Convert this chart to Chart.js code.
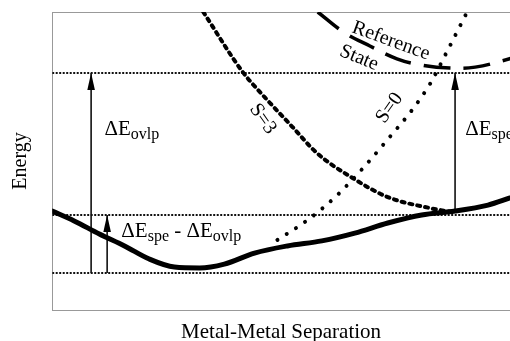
<!DOCTYPE html>
<html>
<head>
<meta charset="utf-8">
<script src="https://cdn.jsdelivr.net/npm/chart.js@4.4.0/dist/chart.umd.min.js"></script>
<style>
  html, body { margin: 0; padding: 0; background: #fff; overflow: hidden; }
</style>
</head>
<body>
<canvas id="c" width="510" height="341"></canvas>
<script>
// Potential energy curves vs. metal-metal separation (arbitrary units: x 0-10, E 0-10)

// Ground-state curve
const groundX = [0, 0.48, 1.03, 1.58, 2.12, 2.67, 3.22, 3.76, 4.42, 5.14, 5.89, 6.61, 7.33, 8.07, 8.80, 9.52, 10.0];
const groundE = [3.32, 2.99, 2.55, 2.15, 1.71, 1.44, 1.41, 1.54, 1.91, 2.15, 2.32, 2.58, 2.92, 3.19, 3.32, 3.52, 3.76];

// S=3 curve
const s3X = [3.30, 4.16, 4.66, 5.25, 5.78, 6.56, 7.33, 8.25, 8.73];
const s3E = [10.0, 7.99, 7.11, 6.14, 5.27, 4.43, 3.79, 3.42, 3.29];

// S=0 curve
const s0X = [4.92, 5.58, 6.21, 6.83, 7.37, 7.86, 8.25, 8.62, 9.04];
const s0E = [2.35, 3.02, 3.83, 4.83, 5.80, 6.71, 7.58, 8.66, 9.93];

// Reference state curve
const refX = [5.80, 6.39, 6.94, 7.53, 8.07, 8.69, 9.24, 9.83, 10.4];
const refE = [10.0, 9.30, 8.86, 8.43, 8.22, 8.12, 8.15, 8.36, 8.62];

// Reference energy levels (dotted horizontal lines)
const levels = [1.24, 3.19, 7.95];

// Energy-gap arrows: position and [from, to] energies
const arrowX = [0.85, 1.20, 8.80];
const arrowFrom = [1.24, 1.24, 3.32];
const arrowTo = [7.95, 3.19, 7.95];

// Gap labels: text pieces [text, isSubscript], anchor (x, E)
const gapLabels = [
  [['\u0394E', false], ['ovlp', true]],
  [['\u0394E', false], ['spe', true], [' - \u0394E', false], ['ovlp', true]],
  [['\u0394E', false], ['spe', true]]
];
const gapLabelX = [1.14, 1.51, 9.02];
const gapLabelE = [5.87, 2.45, 5.87];

// Curve names: text, centre (x, E), rotation in degrees
const curveNames = ['S=3', 'S=0', 'Reference', 'State'];
const curveNameX = [4.60, 7.37, 7.40, 6.70];
const curveNameE = [6.41, 6.78, 9.03, 8.46];
const curveNameRot = [55, -55, 20, 22];

const SERIF = "'Liberation Serif', 'Times New Roman', serif";
const pts = (xs, ys) => xs.map((x, i) => ({ x, y: ys[i] }));

const datasets = [
  {
    data: pts(groundX, groundE), borderColor: '#000', borderWidth: 5,
    cubicInterpolationMode: 'monotone', borderCapStyle: 'round'
  },
  {
    data: pts(s3X, s3E), borderColor: '#000', borderWidth: 4,
    borderDash: [3, 5], borderCapStyle: 'round', cubicInterpolationMode: 'monotone'
  },
  {
    data: pts(s0X, s0E), borderColor: '#000', borderWidth: 4,
    borderDash: [0.01, 11], borderCapStyle: 'round', cubicInterpolationMode: 'monotone'
  },
  {
    data: pts(refX, refE), borderColor: '#000', borderWidth: 3.5,
    borderDash: [27, 13], tension: 0.4
  }
];

levels.forEach(e => datasets.push({
  data: [{ x: 0, y: e }, { x: 10, y: e }], borderColor: '#111', borderWidth: 2, borderDash: [2, 1.5]
}));

arrowX.forEach((x, i) => datasets.push({
  data: [{ x, y: arrowFrom[i] }, { x, y: arrowTo[i] }], borderColor: '#000', borderWidth: 1.5, arrow: true
}));

datasets.forEach(d => { d.pointRadius = 0; d.fill = false; d.xAxisID = 'x'; d.yAxisID = 'y'; });

// Arrowheads and text annotations placed through the chart's scales
const annotate = {
  id: 'annotate',
  afterDatasetsDraw(chart) {
    const ctx = chart.ctx;
    const xs = chart.scales.x, ys = chart.scales.y;

    chart.data.datasets.forEach((d, i) => {
      if (!d.arrow) return;
      const m = chart.getDatasetMeta(i).data;
      const p1 = m[m.length - 1], p0 = m[m.length - 2];
      const ang = Math.atan2(p1.y - p0.y, p1.x - p0.x);
      const len = 17, half = 3.8;
      ctx.save();
      ctx.translate(p1.x, p1.y);
      ctx.rotate(ang);
      ctx.beginPath();
      ctx.moveTo(0, 0);
      ctx.lineTo(-len, -half);
      ctx.lineTo(-len, half);
      ctx.closePath();
      ctx.fillStyle = '#000';
      ctx.fill();
      ctx.restore();
    });

    ctx.save();
    ctx.fillStyle = '#000';
    ctx.textBaseline = 'alphabetic';
    ctx.textAlign = 'left';
    gapLabels.forEach((parts, i) => {
      let px = xs.getPixelForValue(gapLabelX[i]);
      const py = ys.getPixelForValue(gapLabelE[i]);
      parts.forEach(([t, sub]) => {
        ctx.font = (sub ? 16 : 21) + 'px ' + SERIF;
        ctx.fillText(t, px, sub ? py + 4 : py);
        px += ctx.measureText(t).width;
      });
    });
    ctx.restore();

    curveNames.forEach((t, i) => {
      ctx.save();
      ctx.translate(xs.getPixelForValue(curveNameX[i]), ys.getPixelForValue(curveNameE[i]));
      ctx.rotate(curveNameRot[i] * Math.PI / 180);
      ctx.font = '20px ' + SERIF;
      ctx.fillStyle = '#000';
      ctx.textAlign = 'center';
      ctx.textBaseline = 'middle';
      ctx.fillText(t, 0, 0);
      ctx.restore();
    });
  }
};

new Chart(document.getElementById('c'), {
  type: 'line',
  data: { datasets },
  options: {
    responsive: false,
    animation: false,
    layout: { padding: { top: 12, left: 0, right: 0, bottom: 0 } },
    plugins: { legend: { display: false }, tooltip: { enabled: false } },
    scales: {
      x: {
        type: 'linear', min: 0, max: 10, position: 'bottom',
        ticks: { display: false },
        grid: { display: false, drawTicks: false },
        border: { display: true, color: '#999', width: 1 },
        title: {
          display: true, text: 'Metal-Metal Separation', color: '#000',
          font: { family: SERIF, size: 21, lineHeight: 0.8 },
          padding: { top: 13.6, bottom: 0.6 }
        }
      },
      x2: {
        type: 'linear', min: 0, max: 10, position: 'top',
        ticks: { display: false },
        grid: { display: false, drawTicks: false },
        border: { display: true, color: '#999', width: 1 }
      },
      y: {
        type: 'linear', min: 0, max: 10, position: 'left',
        ticks: { display: false },
        grid: { display: false, drawTicks: false },
        border: { display: true, color: '#999', width: 1 },
        title: {
          display: true, text: 'Energy', color: '#000',
          font: { family: SERIF, size: 20, lineHeight: 0.8 },
          padding: { top: 13, bottom: 23.2 }
        }
      }
    }
  },
  plugins: [annotate]
});
</script>
</body>
</html>
